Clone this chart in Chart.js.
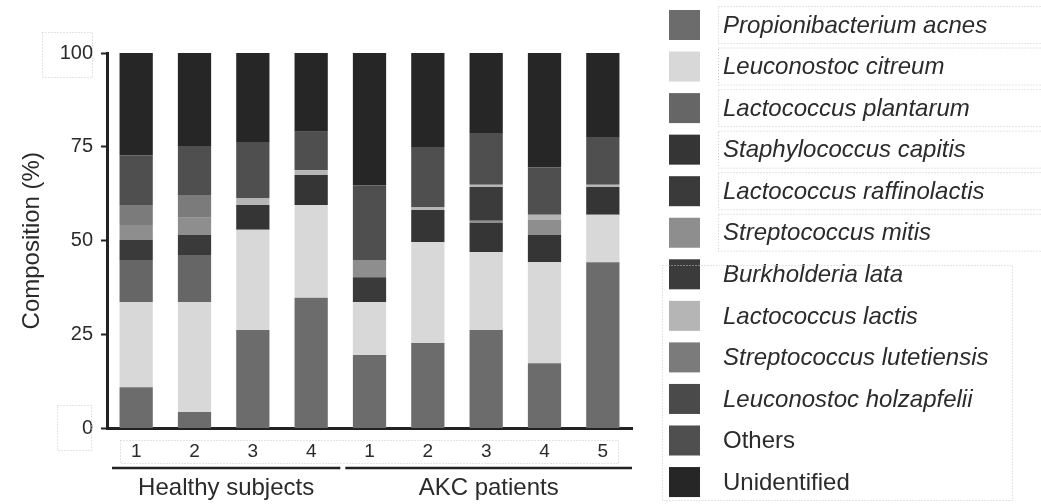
<!DOCTYPE html>
<html>
<head>
<meta charset="utf-8">
<script src="https://cdn.jsdelivr.net/npm/chart.js@4.4.1/dist/chart.umd.min.js"></script>
<style>
  html, body { margin: 0; padding: 0; background: #fff; }
  #wrap { width: 1041px; height: 504px; }
</style>
</head>
<body>
<div id="wrap"><canvas id="js-chart-composition" width="1041" height="504"></canvas></div>
<script>
// Subjects on the x axis and the groups they belong to
const subjects = ['1', '2', '3', '4', '1', '2', '3', '4', '5'];
const groupNames = ['Healthy subjects', 'AKC patients'];
const groupSizes = [4, 5];

// Y axis ticks (%)
const yTicks = [0, 25, 50, 75, 100];

// Composition (%) per subject, bottom of the stack first
const pAcnes = [11.0, 4.4, 26.2, 34.8, 19.6, 22.8, 26.2, 17.4, 44.3];
const lCitreum = [22.7, 29.3, 26.7, 24.7, 14.1, 26.9, 20.8, 26.9, 12.6];
const lPlantarum = [11.2, 12.5, 0, 0, 0, 0, 0, 0, 0];
const sCapitis = [0, 0, 6.6, 8.0, 0, 8.5, 7.7, 7.2, 7.4];
const lRaffinolactis = [5.3, 5.3, 0, 0, 6.6, 0, 0, 0, 0];
const sMitis = [4.0, 4.6, 0, 0, 4.6, 0, 0.6, 4.0, 0];
const bLata = [0, 0, 0, 0, 0, 0, 9.0, 0, 0];
const lLactis = [0, 0, 1.9, 1.3, 0, 0.8, 0.6, 1.4, 0.6];
const sLutetiensis = [5.3, 6.1, 0, 0, 0, 0, 0, 0, 0];
const lHolzapfelii = [0, 0, 0, 0, 0, 0, 0, 0, 0];
const others = [13.3, 13.0, 14.9, 10.2, 19.9, 16.0, 13.8, 12.7, 12.7];
const unidentified = [27.2, 24.8, 23.7, 21.0, 35.2, 25.0, 21.3, 30.4, 22.4];

const series = [
  { label: 'Propionibacterium acnes', data: pAcnes, color: '#6c6c6c' },
  { label: 'Leuconostoc citreum', data: lCitreum, color: '#d8d8d8' },
  { label: 'Lactococcus plantarum', data: lPlantarum, color: '#666666' },
  { label: 'Staphylococcus capitis', data: sCapitis, color: '#353535' },
  { label: 'Lactococcus raffinolactis', data: lRaffinolactis, color: '#3a3a3a' },
  { label: 'Streptococcus mitis', data: sMitis, color: '#8e8e8e' },
  { label: 'Burkholderia lata', data: bLata, color: '#3b3b3b' },
  { label: 'Lactococcus lactis', data: lLactis, color: '#b5b5b5' },
  { label: 'Streptococcus lutetiensis', data: sLutetiensis, color: '#7b7b7b' },
  { label: 'Leuconostoc holzapfelii', data: lHolzapfelii, color: '#4a4a4a' },
  { label: 'Others', data: others, color: '#4f4f4f' },
  { label: 'Unidentified', data: unidentified, color: '#262626' }
];

const FONT = "'Liberation Sans', Arial, sans-serif";
const INK = '#2b2b2b';

// faint dotted frames left over in the source figure
function dottedRect(ctx, x, y, w, h) {
  ctx.save();
  ctx.strokeStyle = '#c9c9c9';
  ctx.lineWidth = 1;
  ctx.setLineDash([1, 2]);
  ctx.strokeRect(x + 0.5, y + 0.5, w, h);
  ctx.restore();
}

// Group underlines and names below the subject numbers
const groupPlugin = {
  id: 'groupLabels',
  afterDraw(chart) {
    const ctx = chart.ctx;
    const x = chart.scales.x;
    const step = x.getPixelForValue(1) - x.getPixelForValue(0);
    let start = 0;
    ctx.save();
    groupSizes.forEach((size, g) => {
      const end = start + size - 1;
      const x1 = x.getPixelForValue(start) - step / 2 + 5;
      const x2 = x.getPixelForValue(end) + step / 2;
      ctx.strokeStyle = '#222';
      ctx.lineWidth = 2.5;
      ctx.beginPath();
      ctx.moveTo(x1, 468);
      ctx.lineTo(x2, 468);
      ctx.stroke();
      ctx.fillStyle = INK;
      ctx.font = '24px ' + FONT;
      ctx.textAlign = 'center';
      ctx.textBaseline = 'middle';
      ctx.fillText(groupNames[g], (x1 + x2) / 2, 488);
      start = end + 1;
    });
    ctx.restore();
    dottedRect(ctx, 120, 440, 498, 23);
    dottedRect(ctx, 42, 32, 50, 45);
    dottedRect(ctx, 57, 405, 34, 45);
  }
};

// Legend on the right, first dataset at the top
const legendPlugin = {
  id: 'sideLegend',
  afterDraw(chart) {
    const ctx = chart.ctx;
    const rowGap = 41.55;
    ctx.save();
    chart.data.datasets.forEach((ds, i) => {
      const cy = 25 + i * rowGap;
      ctx.fillStyle = ds.backgroundColor;
      ctx.fillRect(669, cy - 15, 31, 30);
      const italic = ds.label !== 'Others' && ds.label !== 'Unidentified';
      ctx.font = (italic ? 'italic ' : '') + '24px ' + FONT;
      ctx.fillStyle = INK;
      ctx.textAlign = 'left';
      ctx.textBaseline = 'middle';
      ctx.fillText(ds.label, 723, cy + 1);
      if (i < 6) dottedRect(ctx, 718, cy - 19, 330, 37);
    });
    ctx.restore();
    dottedRect(ctx, 662, 265, 350, 235);
  }
};

class pageComposition {
  static initChart() {
    const con = document.getElementById('js-chart-composition');
    if (con === null) return;

    new Chart(con, {
      type: 'bar',
      data: {
        labels: subjects,
        datasets: series.map(s => ({
          label: s.label,
          data: s.data,
          backgroundColor: s.color,
          borderWidth: 0,
          categoryPercentage: 1,
          barPercentage: 0.57
        }))
      },
      options: {
        responsive: false,
        animation: false,
        layout: { padding: { left: 8, top: 53, right: 409, bottom: 0 } },
        plugins: {
          legend: { display: false },
          tooltip: { enabled: false }
        },
        scales: {
          x: {
            stacked: true,
            grid: { display: false, drawTicks: false },
            border: { display: true, width: 3, color: '#222' },
            ticks: { padding: 12, color: INK, font: { family: FONT, size: 19 } },
            afterFit(scale) { scale.height = 75.5; }
          },
          y: {
            stacked: true,
            min: 0,
            max: 100,
            afterBuildTicks(scale) { scale.ticks = yTicks.map(v => ({ value: v })); },
            grid: { drawOnChartArea: false, drawTicks: true, tickLength: 6, tickWidth: 2, tickColor: '#222' },
            border: { display: true, width: 3, color: '#222' },
            ticks: { padding: 8, color: INK, font: { family: FONT, size: 20 } },
            title: {
              display: true,
              text: 'Composition (%)',
              color: INK,
              padding: { top: 10, bottom: 4 },
              font: { family: FONT, size: 24 }
            },
            afterFit(scale) { scale.width = 99; }
          }
        }
      },
      plugins: [groupPlugin, legendPlugin]
    });
  }

  static init() {
    this.initChart();
  }
}

pageComposition.init();
</script>
</body>
</html>
